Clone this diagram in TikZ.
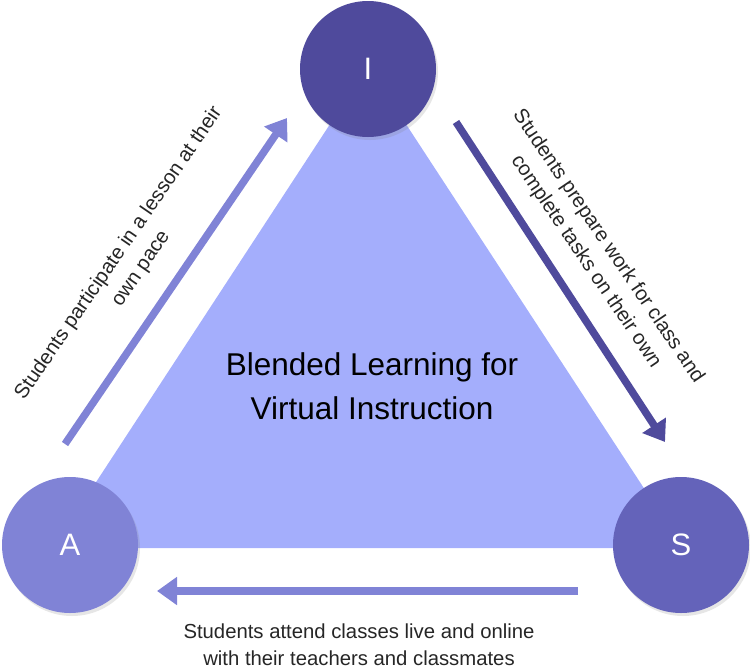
\documentclass[tikz,border=0pt]{standalone}
\usepackage{fontspec}
\setmainfont{Liberation Sans}
\usetikzlibrary{arrows.meta,shadows}
\definecolor{instr}{HTML}{4F4A9C}
\definecolor{attend}{HTML}{8083D6}
\definecolor{self}{HTML}{6463BA}
\definecolor{blend}{HTML}{A4AEFC}
\begin{document}
\begin{tikzpicture}[x=1pt, y=-1pt, note/.style={align=center, text=black!85, font=\fontsize{20.3}{27}\selectfont}]
\tikzstyle{ltr}=[circle, minimum size=136pt, inner sep=0pt, text=white, font=\fontsize{31}{31}\selectfont, drop shadow={shadow xshift=2pt, shadow yshift=-3pt, opacity=0.2}]
\tikzstyle{arr}=[line width=7.5pt, -{Triangle[length=20pt, width=27pt]}]
\useasboundingbox (0,0) rectangle (750,670);
% triangle
\coordinate (tt) at (368,66);
\coordinate (tl) at (53,548);
\coordinate (tr) at (683,548);
\fill[blend] (tt) -- (tl) -- (tr) -- cycle;
\node[font=\fontsize{31.5}{44}\selectfont, align=center] (title) at (372,386) {Blended Learning for\\Virtual Instruction};
% circles
\node[ltr, fill=instr] (I) at (368,69) {I};
\node[ltr, fill=attend] (A) at (70,545) {A};
\node[ltr, fill=self] (S) at (681,545) {S};
% arrow ends
\coordinate (a1) at (65,444);
\coordinate (a2) at (287,118);
\coordinate (i1) at (456,122);
\coordinate (i2) at (665,442);
\coordinate (s1) at (578,591);
\coordinate (s2) at (157,591);
\foreach \p/\q/\c in {a1/a2/attend,i1/i2/instr,s1/s2/attend}{\draw[arr, \c] (\p) -- (\q);}
% labels
\node[note, rotate=55.5] (la) at (130,261) {Students participate in a lesson at their\\own pace};
\node[note, rotate=-55.9] (li) at (597,254) {Students prepare work for class and\\complete tasks on their own};
\node[note] (ls) at (359,645) {Students attend classes live and online\\with their teachers and classmates};
\end{tikzpicture}
\end{document}
